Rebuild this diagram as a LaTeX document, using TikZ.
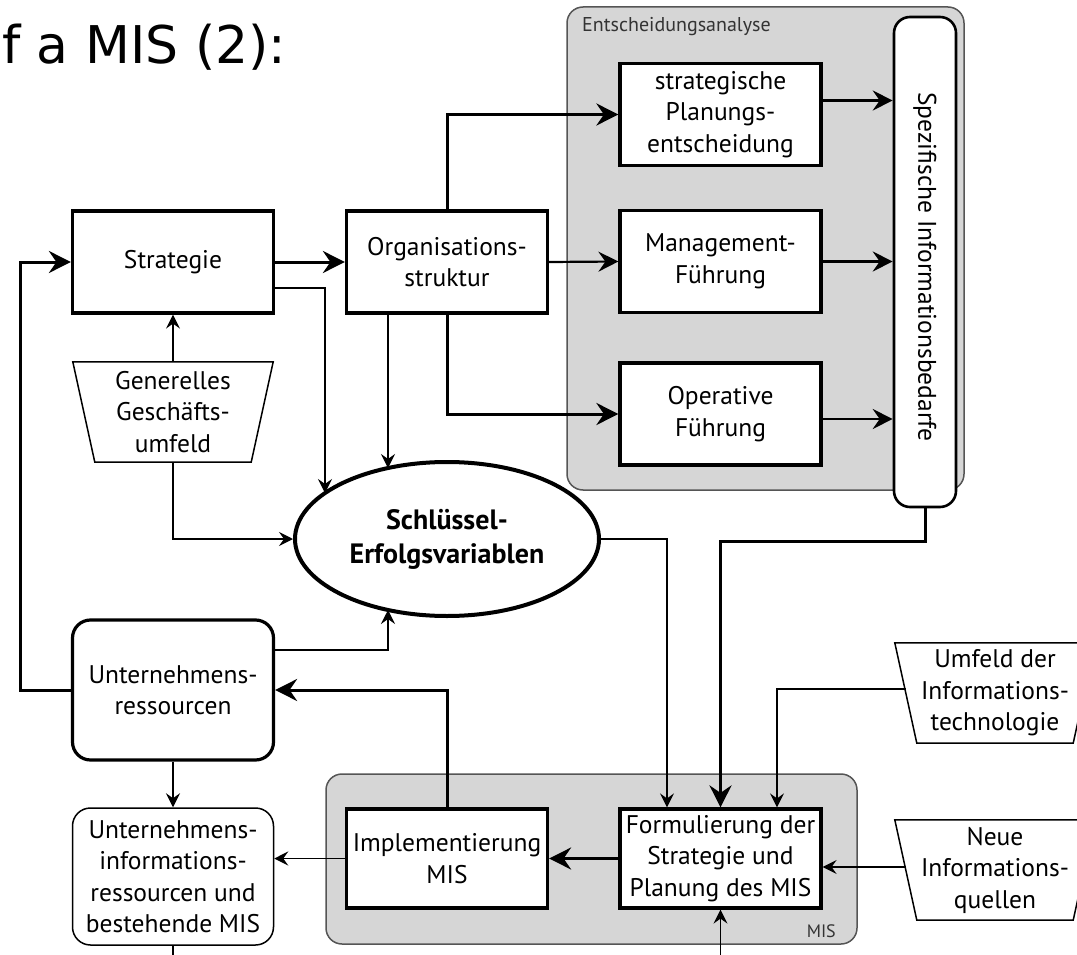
\documentclass[tikz,border=0pt]{standalone}
\usepackage{fontspec}
\setmainfont{PT Sans}
\newfontfamily\titlefont{DejaVu Sans}
\usetikzlibrary{arrows.meta,calc,shapes.geometric}
\definecolor{panelgray}{RGB}{214,214,214}
\definecolor{edgegray}{RGB}{85,85,85}
\newcommand\lblfont{\fontsize{25.5}{31.5}\selectfont}
\newcommand\smallfont{\fontsize{20}{24}\selectfont}
\begin{document}
\begin{tikzpicture}[x=1pt,y=-1pt,
  box/.style={draw, line width=3.2pt, fill=white, minimum width=201pt, minimum height=102pt, align=center, font=\lblfont, inner sep=0pt},
  rbox/.style={box, rounded corners=18pt},
  tbox/.style={draw, line width=1.5pt, rounded corners=18pt, fill=white, minimum width=201pt, minimum height=137pt, align=center, font=\lblfont, inner sep=0pt},
  txt/.style={minimum width=200pt, minimum height=100pt, align=center, font=\lblfont, inner sep=0pt},
  trap/.style={line width=1.5pt},
  panel/.style={draw=edgegray, fill=panelgray, line width=1.5pt, rounded corners=16pt, inner sep=0pt},
  big/.style={-{Stealth[length=22pt,width=22pt,inset=7.5pt]}, line width=3pt},
  mid/.style={-{Stealth[length=20pt,width=20pt,inset=7pt]}, line width=2.2pt},
  thin/.style={-{Stealth[length=14pt,width=14pt,inset=5pt]}, line width=1.4pt},
  plain/.style={line width=1.4pt}]
\clip (0,0) rectangle (1077,955);
\fill[white] (0,0) rectangle (1077,955);

% title
\node[anchor=base west, font=\titlefont\fontsize{52}{60}\selectfont, inner sep=0pt] (title) at (2,64) {f a MIS (2):};

% panels
\node[panel, minimum width=397pt, minimum height=483pt] (epanel) at (765.5,248.5) {};
\node[anchor=base west, font=\smallfont, inner sep=0pt, text=black!80] (elabel) at (582,32) {Entscheidungsanalyse};
\node[panel, minimum width=531pt, minimum height=170pt] (mpanel) at (591.5,859) {};
\node[anchor=base east, font=\fontsize{18}{22}\selectfont, inner sep=0pt, text=black!80] (mlabel) at (836,937) {MIS};

% pill
\node[draw, line width=2.6pt, fill=white, rounded corners=16pt, minimum width=62pt, minimum height=490pt, inner sep=0pt] (pill) at (925,262) {};
\node[rotate=-90, font=\lblfont, inner sep=0pt] (pilltext) at (925,267) {Spezifische Informationsbedarfe};

% decision boxes
\node[box] (sp) at (720.5,114.5) {strategische\\Planungs-\\entscheidung};
\node[box] (mg) at (720.5,261.5) {Management-\\Führung};
\node[box] (op) at (720.5,414) {Operative\\Führung};

% left part
\node[box] (st) at (173,262) {Strategie};
\node[box] (org) at (447,262) {Organisations-\\struktur};
\node[txt] (gen) at (173,412) {Generelles\\Geschäfts-\\umfeld};
\draw[trap] (gen.north west) -- (gen.north east) -- ($(gen.south east)+(-22,0)$) -- ($(gen.south west)+(22,0)$) -- cycle;
\node[ellipse, draw, line width=4pt, fill=white, minimum width=304pt, minimum height=154pt, inner sep=0pt, align=center, font=\fontsize{28}{34}\selectfont\bfseries] (sev) at (447,539) {Schlüssel-\\Erfolgsvariablen};
\node[rbox, minimum height=140pt] (ur) at (173,690) {Unternehmens-\\ressourcen};
\node[tbox] (uir) at (173,876.5) {Unternehmens-\\informations-\\ressourcen und\\bestehende MIS};

% MIS boxes
\node[box, minimum height=99pt] (impl) at (447,858.5) {Implementierung\\MIS};
\node[box, minimum height=99pt] (form) at (720.5,858.5) {Formulierung der\\Strategie und\\Planung des MIS};

% right trapezoids
\node[txt] (uit) at (995,693) {Umfeld der\\Informations-\\technologie};
\draw[trap] (uit.north west) -- (uit.north east) -- ($(uit.south east)+(-22,0)$) -- ($(uit.south west)+(22,0)$) -- cycle;
\node[txt] (nq) at (995,870) {Neue\\Informations-\\quellen};
\draw[trap] (nq.north west) -- (nq.north east) -- ($(nq.south east)+(-22,0)$) -- ($(nq.south west)+(22,0)$) -- cycle;

% helper coordinates
\coordinate (lp) at (20,0);
\coordinate (sevA) at ($(sev.center)+(-122,-46)$);
\coordinate (sevB) at ($(sev.center)+(-59,-71)$);
\coordinate (sevC) at ($(sev.center)+(-59,71)$);
\coordinate (uitin) at ($(uit.west)+(11,-4)$);
\coordinate (nqin) at ($(nq.west)+(11,-3)$);
\coordinate (botA) at (720.5,960);
\coordinate (botB) at (173,960);

% connectors
\draw[big] (st.east) -- (org.west);
\draw[big] (ur.west) -- (ur.west -| lp) |- (st.west);
\draw[thin] (gen.north) -- (st.south);
\draw[thin] (gen.south) |- (sev.west);
\draw[thin] ($(st.east)+(0,26)$) -| (sevA);
\draw[thin] ($(org.south)+(-59,0)$) -- (sevB);
\draw[thin] ($(ur.east)+(0,-40)$) -| (sevC);
\draw[big] (org.north) |- (sp.west);
\draw[mid] (org.east) -- (mg.west);
\draw[big] (org.south) |- (op.west);
\draw[mid] ($(sp.east)+(0,-14)$) coordinate (spo) -- (spo -| pill.west);
\draw[mid] (mg.east) -- (mg.east -| pill.west);
\draw[mid] ($(op.east)+(0,5)$) coordinate (opo) -- (opo -| pill.west);
\draw[big] (pill.south) -- ++(0,33) -| (form.north);
\draw[thin] (sev.east) -| ($(form.north)+(-53.5,0)$);
\draw[thin] (uitin) -| ($(form.north)+(56.5,0)$);
\draw[thin] (nqin) -- (nqin -| form.east);
\draw[thin] (botA) -- (form.south);
\draw[big] (form.west) -- (impl.east);
\draw[thin] (impl.west) -- (impl.west -| uir.east);
\draw[big] (impl.north) |- (ur.east);
\draw[thin] (ur.south) -- (uir.north);
\draw[plain] (uir.south) -- (botB);
\end{tikzpicture}
\end{document}
